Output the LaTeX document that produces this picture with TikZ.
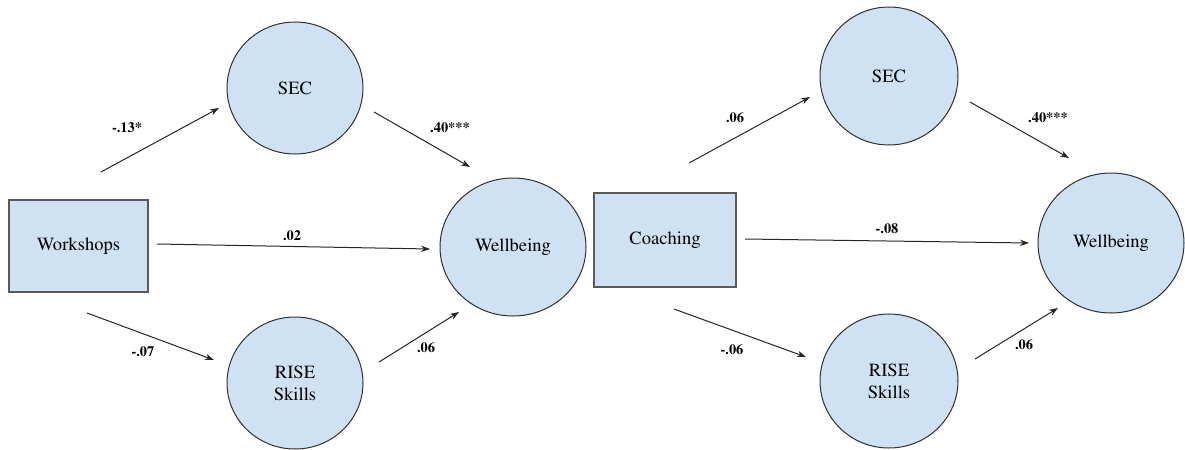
\documentclass[tikz,border=0pt]{standalone}
\usepackage[T1]{fontenc}
\usepackage{mathptmx}
\usetikzlibrary{shapes.geometric,arrows.meta}
\definecolor{nodefill}{HTML}{CFE2F3}
\definecolor{boxline}{HTML}{5A5A5A}
\definecolor{circline}{HTML}{303030}
\tikzset{
  boxnode/.style={draw=boxline, line width=0.8pt, fill=nodefill, rectangle, inner sep=0pt, font=\rmfamily\fontsize{9.3}{11}\selectfont},
  ellnode/.style={draw=circline, line width=0.5pt, fill=nodefill, ellipse, inner sep=0pt, align=center, font=\rmfamily\fontsize{9.3}{11}\selectfont},
  arr/.style={draw=black!85, line width=0.5pt, -{Stealth[length=4.5pt,width=3.2pt]}},
  lbl/.style={font=\rmfamily\fontsize{7.2}{8.6}\selectfont\bfseries, inner sep=0pt}
}
\begin{document}
\begin{tikzpicture}[x=0.5pt,y=-0.5pt]
\useasboundingbox (0,0) rectangle (1185,450);
% left panel nodes
\node[boxnode, minimum width=69.5pt, minimum height=46pt] (ws) at (78.5,246) {Workshops};
\node[ellnode, minimum width=68pt, minimum height=66pt] (secL) at (295,88) {SEC};
\node[ellnode, minimum width=73pt, minimum height=69pt] (wbL) at (513,247) {Wellbeing};
\node[ellnode, minimum width=68pt, minimum height=66pt] (riseL) at (295,383) {RISE\\Skills};
% right panel nodes
\node[boxnode, minimum width=71pt, minimum height=47pt] (co) at (665,240) {Coaching};
\node[ellnode, minimum width=69pt, minimum height=69pt] (secR) at (889,76) {SEC};
\node[ellnode, minimum width=73pt, minimum height=70pt] (wbR) at (1111,243) {Wellbeing};
\node[ellnode, minimum width=69pt, minimum height=67pt] (riseR) at (889,381) {RISE\\Skills};
% arrow end points (arrows stop short of the shapes)
\coordinate (a1s) at (101,172); \coordinate (a1e) at (219,108);
\coordinate (a2s) at (374,112); \coordinate (a2e) at (470,167);
\coordinate (a3s) at (157,244); \coordinate (a3e) at (430,249);
\coordinate (a4s) at (87,313);  \coordinate (a4e) at (214,360);
\coordinate (a5s) at (379,362); \coordinate (a5e) at (459,312);
\coordinate (b1s) at (689,163); \coordinate (b1e) at (810,97);
\coordinate (b2s) at (970,102); \coordinate (b2e) at (1069,158);
\coordinate (b3s) at (745,239); \coordinate (b3e) at (1029,243);
\coordinate (b4s) at (674,309); \coordinate (b4e) at (806,357);
\coordinate (b5s) at (975,359); \coordinate (b5e) at (1058,308);
% connectors
\draw[arr] (a1s) -- (a1e);
\draw[arr] (a2s) -- (a2e);
\draw[arr] (a3s) -- (a3e);
\draw[arr] (a4s) -- (a4e);
\draw[arr] (a5s) -- (a5e);
\draw[arr] (b1s) -- (b1e);
\draw[arr] (b2s) -- (b2e);
\draw[arr] (b3s) -- (b3e);
\draw[arr] (b4s) -- (b4e);
\draw[arr] (b5s) -- (b5e);
% labels
\node[lbl] (l1) at (127,128) {-.13*};
\node[lbl] (l2) at (450,128) {.40***};
\node[lbl] (l3) at (292,236) {.02};
\node[lbl] (l4) at (143,352) {-.07};
\node[lbl] (l5) at (426,348) {.06};
\node[lbl] (m1) at (735,118) {.06};
\node[lbl] (m2) at (1048,118) {.40***};
\node[lbl] (m3) at (887,229) {-.08};
\node[lbl] (m4) at (732,350) {-.06};
\node[lbl] (m5) at (1024,345) {.06};
\end{tikzpicture}
\end{document}
